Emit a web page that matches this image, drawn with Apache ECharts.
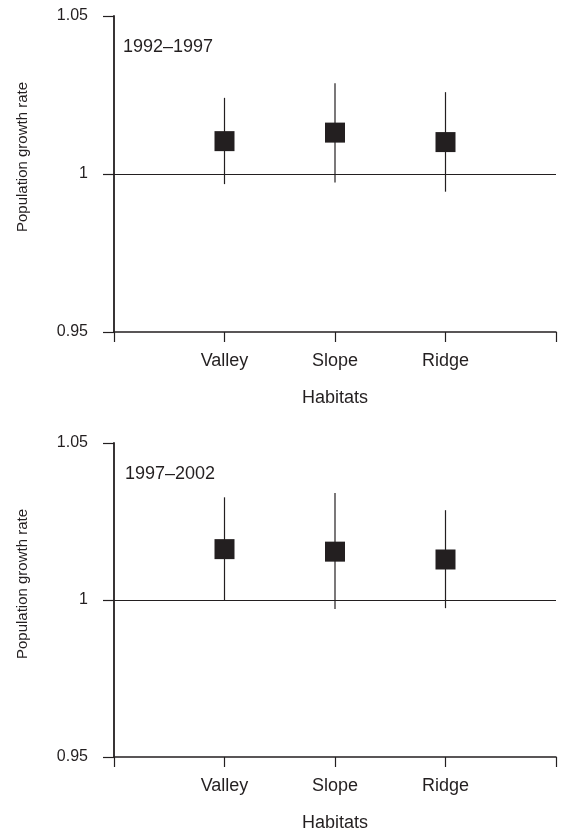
<!DOCTYPE html>
<html>
<head>
<meta charset="utf-8">
<script src="https://cdn.jsdelivr.net/npm/echarts@6/dist/echarts.min.js"></script>
<style>html,body{margin:0;padding:0;background:#fff;}#c{width:565px;height:833px;}</style>
</head>
<body>
<div id="c"></div>
<script>
const categories = ['Valley', 'Slope', 'Ridge'];
const panelLabels = ['1992\u20131997', '1997\u20132002'];
const yTickLabels = ['0.95', '1', '1.05'];
const mean1 = [1.0104, 1.0131, 1.0101];
const upper1 = [1.0241, 1.0287, 1.0259];
const lower1 = [0.9968, 0.9973, 0.9944];
const mean2 = [1.0162, 1.0154, 1.0129];
const upper2 = [1.0327, 1.0341, 1.0286];
const lower2 = [1.0000, 0.9971, 0.9974];

const INK = '#231f20';
const FONT = '"Liberation Sans", Arial, Helvetica, sans-serif';
const panels = [
  {mean: mean1, upper: upper1, lower: lower1},
  {mean: mean2, upper: upper2, lower: lower2}
];

const chart = echarts.init(document.getElementById('c'));
const option = {
  animation: false,
  backgroundColor: '#fff',
  grid: [
    {left: 114, right: 9, top: 16, height: 316},
    {left: 114, right: 9, top: 443, height: 316}
  ],
  xAxis: [0, 1].map(i => ({
    gridIndex: i, type: 'value', min: 0, max: 4, interval: 1,
    axisLine: {show: true, lineStyle: {color: INK, width: 1.5}},
    axisTick: {show: true, length: 10, lineStyle: {color: INK, width: 1.2}},
    axisLabel: {
      formatter: v => categories[v - 1] || '',
      margin: 20, fontSize: 18, color: INK, fontFamily: FONT
    },
    splitLine: {show: false},
    name: 'Habitats', nameLocation: 'middle', nameGap: 57,
    nameTextStyle: {fontSize: 18, color: INK, fontFamily: FONT}
  })),
  yAxis: [0, 1].map(i => ({
    gridIndex: i, type: 'value', min: 0.95, max: 1.05, interval: 0.05,
    axisLine: {show: true, lineStyle: {color: INK, width: 1.8}},
    axisTick: {show: true, length: 11, lineStyle: {color: INK, width: 1.2}},
    axisLabel: {
      formatter: v => {
        const s = String(Number(v.toFixed(2)));
        return yTickLabels.indexOf(s) >= 0 ? s : '';
      },
      margin: 26, fontSize: 16, color: INK, fontFamily: FONT
    },
    splitLine: {show: false}
  })),
  graphic: [
    {type: 'text', left: 123, top: 38, style: {text: panelLabels[0], fontSize: 18, fill: INK, fontFamily: FONT}},
    {type: 'text', left: 125, top: 465, style: {text: panelLabels[1], fontSize: 18, fill: INK, fontFamily: FONT}},
    {type: 'text', x: 23, y: 157, rotation: Math.PI / 2,
      style: {text: 'Population growth rate', fontSize: 15, fill: INK, fontFamily: FONT, align: 'center', verticalAlign: 'middle'}},
    {type: 'text', x: 23, y: 584, rotation: Math.PI / 2,
      style: {text: 'Population growth rate', fontSize: 15, fill: INK, fontFamily: FONT, align: 'center', verticalAlign: 'middle'}}
  ],
  series: []
};

panels.forEach((p, i) => {
  option.series.push({
    type: 'custom', xAxisIndex: i, yAxisIndex: i, z: 2,
    data: categories.map((c, k) => [k + 1, p.lower[k], p.upper[k]]),
    encode: {x: 0, y: [1, 2]},
    renderItem: (params, api) => {
      const x = api.value(0);
      const lo = api.coord([x, api.value(1)]);
      const hi = api.coord([x, api.value(2)]);
      return {type: 'line', shape: {x1: lo[0], y1: lo[1], x2: hi[0], y2: hi[1]},
        style: {stroke: INK, lineWidth: 1.2}};
    }
  });
  option.series.push({
    type: 'scatter', xAxisIndex: i, yAxisIndex: i, z: 3,
    symbol: 'rect', symbolSize: 20,
    itemStyle: {color: INK, opacity: 1},
    data: categories.map((c, k) => [k + 1, p.mean[k]]),
    markLine: {
      silent: true, symbol: 'none', label: {show: false},
      lineStyle: {color: INK, width: 1.2, type: 'solid'},
      data: [{yAxis: 1}]
    }
  });
});

chart.setOption(option);
</script>
</body>
</html>
